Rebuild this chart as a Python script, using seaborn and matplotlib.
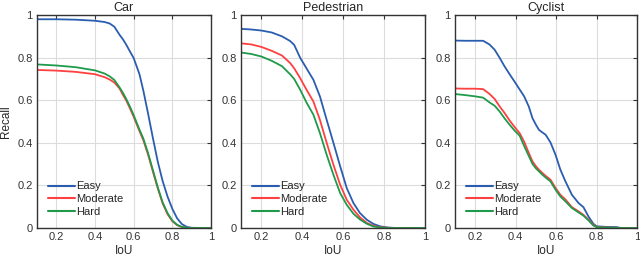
import matplotlib
matplotlib.use("Agg")
import matplotlib.pyplot as plt
import seaborn as sns
import pandas as pd

sns.set_style("white")
plt.rcParams['font.family'] = ['Liberation Sans', 'DejaVu Sans']

categories = ["Car", "Pedestrian", "Cyclist"]
levels = ["Easy", "Moderate", "Hard"]
colors = ["#2a5db0", "#ff4040", "#1f9a4a"]

# Car
car_x = [0.10, 0.20, 0.30, 0.40, 0.45, 0.476, 0.50, 0.527, 0.545, 0.562, 0.58, 0.60, 0.63, 0.65,
         0.675, 0.70, 0.725, 0.75, 0.775, 0.80, 0.825, 0.85, 0.875, 0.90, 1.00]
car_easy = [0.980, 0.980, 0.978, 0.973, 0.967, 0.960, 0.945, 0.907, 0.885, 0.860, 0.830, 0.798,
            0.722, 0.645, 0.535, 0.420, 0.310, 0.220, 0.148, 0.090, 0.045, 0.018, 0.005, 0.001, 0.0]
car_mod = [0.742, 0.739, 0.733, 0.722, 0.708, 0.697, 0.683, 0.655, 0.624, 0.598, 0.563, 0.522,
           0.455, 0.412, 0.343, 0.263, 0.185, 0.115, 0.065, 0.032, 0.013, 0.004, 0.001, 0.0, 0.0]
car_hard = [0.768, 0.763, 0.755, 0.740, 0.725, 0.712, 0.695, 0.660, 0.634, 0.605, 0.571, 0.530,
            0.462, 0.420, 0.350, 0.270, 0.190, 0.120, 0.070, 0.035, 0.015, 0.005, 0.001, 0.0, 0.0]

# Pedestrian
ped_x = [0.10, 0.15, 0.20, 0.25, 0.30, 0.34, 0.36, 0.389, 0.42, 0.454, 0.486, 0.519, 0.552, 0.585,
         0.617, 0.65, 0.682, 0.715, 0.748, 0.78, 0.82, 0.86, 1.00]
ped_easy = [0.935, 0.932, 0.927, 0.918, 0.900, 0.878, 0.860, 0.800, 0.750, 0.696, 0.618, 0.508,
            0.400, 0.290, 0.188, 0.117, 0.070, 0.039, 0.019, 0.008, 0.002, 0.0, 0.0]
ped_mod = [0.867, 0.862, 0.850, 0.832, 0.810, 0.775, 0.750, 0.704, 0.650, 0.594, 0.508, 0.400,
           0.297, 0.203, 0.133, 0.086, 0.050, 0.024, 0.010, 0.004, 0.001, 0.0, 0.0]
ped_hard = [0.824, 0.817, 0.805, 0.785, 0.760, 0.722, 0.700, 0.650, 0.590, 0.532, 0.446, 0.344,
            0.250, 0.164, 0.109, 0.067, 0.040, 0.020, 0.007, 0.003, 0.0, 0.0, 0.0]

# Cyclist
cyc_x = [0.10, 0.15, 0.20, 0.239, 0.27, 0.296, 0.32, 0.345, 0.37, 0.394, 0.42, 0.442, 0.465, 0.483,
         0.50, 0.515, 0.53, 0.548, 0.572, 0.597, 0.621, 0.646, 0.678, 0.711, 0.735, 0.76, 0.784,
         0.80, 0.85, 0.90, 0.92, 1.00]
cyc_easy = [0.880, 0.879, 0.879, 0.879, 0.862, 0.837, 0.800, 0.759, 0.722, 0.688, 0.650, 0.618,
            0.570, 0.516, 0.485, 0.461, 0.450, 0.438, 0.402, 0.344, 0.274, 0.219, 0.156, 0.117,
            0.098, 0.054, 0.020, 0.008, 0.005, 0.004, 0.0, 0.0]
cyc_mod = [0.655, 0.654, 0.654, 0.652, 0.630, 0.606, 0.572, 0.540, 0.505, 0.475, 0.445, 0.405,
           0.352, 0.313, 0.290, 0.274, 0.260, 0.245, 0.227, 0.188, 0.156, 0.134, 0.098, 0.078,
           0.062, 0.039, 0.015, 0.005, 0.002, 0.001, 0.0, 0.0]
cyc_hard = [0.629, 0.624, 0.618, 0.612, 0.590, 0.574, 0.548, 0.515, 0.485, 0.458, 0.433, 0.385,
            0.338, 0.301, 0.280, 0.266, 0.252, 0.237, 0.219, 0.180, 0.148, 0.125, 0.094, 0.073,
            0.058, 0.036, 0.012, 0.004, 0.002, 0.001, 0.0, 0.0]

series = {
    "Car": (car_x, [car_easy, car_mod, car_hard]),
    "Pedestrian": (ped_x, [ped_easy, ped_mod, ped_hard]),
    "Cyclist": (cyc_x, [cyc_easy, cyc_mod, cyc_hard]),
}

fig = plt.figure(figsize=(6.4, 2.59), dpi=100)
positions = [
    [37/640, 31/259, 174/640, 213/259],
    [241/640, 31/259, 184/640, 213/259],
    [455/640, 31/259, 182/640, 213/259],
]

for cat, pos in zip(categories, positions):
    ax = fig.add_axes(pos)
    xs, ys = series[cat]
    rows = []
    for lvl, y in zip(levels, ys):
        for xv, yv in zip(xs, y):
            rows.append({"IoU": xv, "Recall": yv, "Level": lvl})
    df = pd.DataFrame(rows)
    sns.lineplot(data=df, x="IoU", y="Recall", hue="Level", hue_order=levels,
                 palette=colors, linewidth=1.3, ax=ax, estimator=None, sort=True)
    ax.set_xlim(0.1, 1.0)
    ax.set_ylim(0, 1)
    ax.set_xticks([0.2, 0.4, 0.6, 0.8, 1.0])
    ax.set_xticklabels(["0.2", "0.4", "0.6", "0.8", "1"])
    ax.set_yticks([0, 0.2, 0.4, 0.6, 0.8, 1.0])
    ax.set_yticklabels(["0", "0.2", "0.4", "0.6", "0.8", "1"])
    ax.grid(True, color="#dcdcdc", linewidth=0.8)
    ax.set_axisbelow(True)
    for s in ax.spines.values():
        s.set_color("#333333")
        s.set_linewidth(1.0)
    ax.tick_params(direction="in", length=3, labelsize=8, colors="#333333",
                   top=True, right=True, pad=3)
    ax.set_title(cat, fontsize=9, pad=3)
    ax.set_xlabel("IoU", fontsize=8.5, labelpad=2)
    if cat == "Car":
        ax.set_ylabel("Recall", fontsize=8.5, labelpad=4)
    else:
        ax.set_ylabel("")
    leg = ax.legend(loc="lower left", frameon=False, fontsize=8, handlelength=2.4,
                    handletextpad=0.1, labelspacing=0.25, borderaxespad=0.3,
                    bbox_to_anchor=(0.02, 0.015))
    for line in leg.get_lines():
        line.set_linewidth(1.5)

fig.savefig("out.png", dpi=100)
